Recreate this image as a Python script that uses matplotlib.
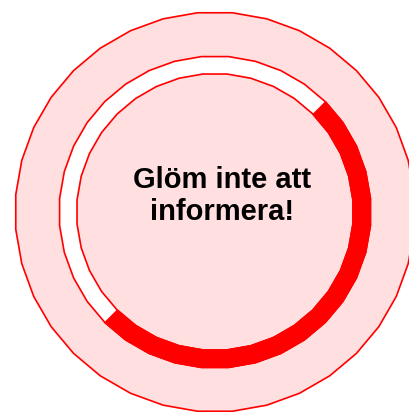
import numpy as np
import matplotlib
matplotlib.use("Agg")
import matplotlib.pyplot as plt
from matplotlib.patches import Polygon

# ========== Data ==========
progress = [0.5]              # share of the ring filled in red
start_angle = [45]            # degrees, filled clockwise from here
message = ["Glöm inte att", "informera!"]

# ========== Geometry (pixels) ==========
W, H = 409, 412
cx, cy = 215, 212
r_outer = 200
r_ring_out, r_ring_in = 156, 138.5
n_seg = 36

pink = "#ffdfdf"
red = "#ff0000"


def circle_pts(r, n=n_seg):
    t = np.linspace(0, 2 * np.pi, n, endpoint=False) + np.pi / n
    return np.column_stack([cx + r * np.cos(t), cy - r * np.sin(t)])


def arc_pts(r, a0, a1, step=10):
    n = max(int(abs(a1 - a0) / step), 1)
    t = np.radians(np.linspace(a0, a1, n + 1))
    return np.column_stack([cx + r * np.cos(t), cy - r * np.sin(t)])


fig = plt.figure(figsize=(W / 100, H / 100), dpi=100)
ax = fig.add_axes([0, 0, 1, 1])
ax.set_xlim(0, W)
ax.set_ylim(H, 0)
ax.axis("off")

# big pink disc
ax.add_patch(Polygon(circle_pts(r_outer), closed=True, fc=pink, ec=red, lw=1.2))

# white ring with pink centre
ax.add_patch(Polygon(circle_pts(r_ring_out), closed=True, fc="white", ec=red, lw=1.2))
ax.add_patch(Polygon(circle_pts(r_ring_in), closed=True, fc=pink, ec=red, lw=1.2))

# red progress arc
a0 = start_angle[0]
a1 = a0 - 360 * progress[0]
outer = arc_pts(r_ring_out + 0.5, a0, a1)
inner = arc_pts(r_ring_in - 0.5, a1, a0)
ax.add_patch(Polygon(np.vstack([outer, inner]), closed=True, fc=red, ec=red, lw=0.5))

ax.text(222, 196, "\n".join(message), ha="center", va="center",
        fontsize=21, fontweight="bold", family=["Liberation Sans", "DejaVu Sans"],
        linespacing=1.15, color="black")

fig.savefig("out.png", dpi=100)
